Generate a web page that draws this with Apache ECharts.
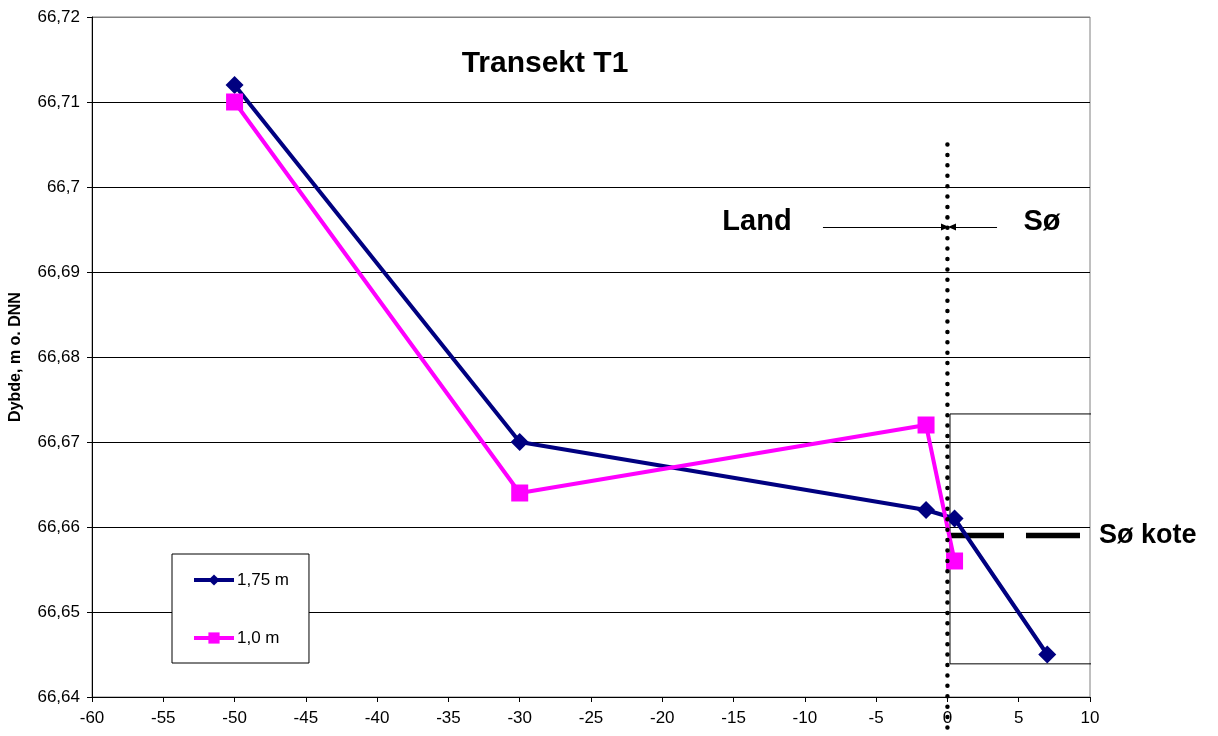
<!DOCTYPE html>
<html>
<head>
<meta charset="utf-8">
<title>Transekt T1</title>
<script src="https://cdn.jsdelivr.net/npm/echarts@6/dist/echarts.min.js"></script>
<style>
  html, body { margin: 0; padding: 0; background: #fff; }
  #chart { width: 1218px; height: 736px; }
</style>
</head>
<body>
<div id="chart"></div>
<script>
// Measured profile, distance from shoreline (m) and level (m o. DNN)
const seriesNames = ['1,75 m', '1,0 m'];
const distance175 = [-50, -30, -1.5, 0.5, 7];
const level175 = [66.712, 66.670, 66.662, 66.661, 66.645];
const distance10 = [-50, -30, -1.5, 0.5];
const level10 = [66.710, 66.664, 66.672, 66.656];

// Axis ranges
const xMin = -60, xMax = 10, xStep = 5;
const yMin = 66.64, yMax = 66.72, yStep = 0.01;

// Annotations: shoreline, lake level, land/lake arrows, lake box
const shoreX = 0;
const shoreLineY = [66.705, 66.6358];
const lakeLevel = 66.659;
const lakeLevelX = [0.18, 9.3];
const arrowY = 66.6953;
const landArrowX = [-8.73, -0.17];
const lakeArrowX = [3.48, 0.32];
const lakeBoxX = [0.18, 10.21];
const lakeBoxY = [66.6439, 66.6733];

const FONT = '"Liberation Sans", Arial, sans-serif';

function pairs(xs, ys) { return xs.map((x, i) => [x, ys[i]]); }
function commaNum(v) { return String(+v.toFixed(4)).replace('.', ','); }

const yLineCount = Math.round((yMax - yMin) / yStep) + 1;
const gridColors = Array.from({ length: yLineCount }, (_, i) => i === yLineCount - 1 ? '#808080' : '#000');

const chart = echarts.init(document.getElementById('chart'), null, { renderer: 'canvas' });

chart.setOption({
  animation: false,
  backgroundColor: '#fff',
  grid: {
    left: 92, right: 128, top: 17, bottom: 39,
    show: true, borderColor: '#808080', borderWidth: 1, backgroundColor: 'transparent',
    containLabel: false, outerBoundsMode: 'none'
  },
  xAxis: {
    type: 'value', min: xMin, max: xMax, interval: xStep,
    axisLine: { show: true, onZero: false, lineStyle: { color: '#000', width: 1 } },
    axisTick: { show: true, inside: false, length: 5, lineStyle: { color: '#000' } },
    axisLabel: { color: '#000', fontFamily: FONT, fontSize: 17, margin: 13, formatter: v => commaNum(v) },
    splitLine: { show: false }
  },
  yAxis: {
    type: 'value', min: yMin, max: yMax, interval: yStep,
    name: 'Dybde, m o. DNN', nameLocation: 'middle', nameRotate: 90, nameGap: 68,
    nameTextStyle: { color: '#000', fontFamily: FONT, fontSize: 16, fontWeight: 'bold' },
    axisLine: { show: true, onZero: false, lineStyle: { color: '#000', width: 1 } },
    axisTick: { show: true, inside: false, length: 5, lineStyle: { color: '#000' } },
    axisLabel: { color: '#000', fontFamily: FONT, fontSize: 17, margin: 12, formatter: v => commaNum(v) },
    splitLine: { show: true, lineStyle: { color: gridColors, width: 1 } }
  },
  legend: {
    data: seriesNames,
    orient: 'vertical',
    left: 172, top: 554,
    padding: [17, 20, 16, 20],
    itemGap: 40,
    itemWidth: 40, itemHeight: 14,
    backgroundColor: '#fff',
    borderColor: '#000', borderWidth: 1, borderRadius: 0,
    lineStyle: { width: 4 },
    textStyle: { color: '#000', fontFamily: FONT, fontSize: 17, lineHeight: 18, padding: [0, 0, 0, -2] },
    selectedMode: false
  },
  graphic: [
    { type: 'text', x: 545, y: 64, style: { text: 'Transekt T1', font: 'bold 30px ' + FONT, fill: '#000', textAlign: 'center', textVerticalAlign: 'middle' } },
    { type: 'text', x: 757, y: 222, style: { text: 'Land', font: 'bold 29px ' + FONT, fill: '#000', textAlign: 'center', textVerticalAlign: 'middle' } },
    { type: 'text', x: 1042, y: 222, style: { text: 'Sø', font: 'bold 29px ' + FONT, fill: '#000', textAlign: 'center', textVerticalAlign: 'middle' } },
    { type: 'text', x: 1099, y: 536, style: { text: 'Sø kote', font: 'bold 27px ' + FONT, fill: '#000', textAlign: 'left', textVerticalAlign: 'middle' } }
  ],
  series: [
    {
      name: 'lakeBox', type: 'line', clip: false, silent: true, symbol: 'none', z: 1,
      lineStyle: { color: '#000', width: 1 },
      data: [[lakeBoxX[0], lakeBoxY[0]], [lakeBoxX[1], lakeBoxY[0]], [lakeBoxX[1], lakeBoxY[1]], [lakeBoxX[0], lakeBoxY[1]], [lakeBoxX[0], lakeBoxY[0]]]
    },
    {
      name: 'lakeLevel', type: 'line', clip: false, silent: true, symbol: 'none', z: 2,
      lineStyle: { color: '#000', width: 5.5, type: [54, 22], cap: 'butt' },
      data: [[lakeLevelX[0], lakeLevel], [lakeLevelX[1], lakeLevel]]
    },
    {
      name: seriesNames[0], type: 'line', clip: false, z: 3,
      color: '#000080',
      symbol: 'diamond', symbolSize: 18,
      lineStyle: { color: '#000080', width: 4 },
      itemStyle: { color: '#000080' },
      data: pairs(distance175, level175)
    },
    {
      name: seriesNames[1], type: 'line', clip: false, z: 4,
      color: '#FF00FF',
      symbol: 'rect', symbolSize: 17,
      lineStyle: { color: '#FF00FF', width: 4 },
      itemStyle: { color: '#FF00FF' },
      data: pairs(distance10, level10)
    },
    {
      name: 'shoreline', type: 'line', clip: false, silent: true, symbol: 'none', z: 5,
      lineStyle: { color: '#000', width: 4.5, type: [0.01, 10.4], cap: 'round' },
      data: [[shoreX, shoreLineY[0]], [shoreX, shoreLineY[1]]],
      markLine: {
        silent: true, symbol: ['none', 'triangle'], symbolSize: [7, 8], animation: false,
        label: { show: false },
        lineStyle: { color: '#000', width: 1, type: 'solid' },
        data: [
          [{ coord: [landArrowX[0], arrowY] }, { coord: [landArrowX[1], arrowY] }],
          [{ coord: [lakeArrowX[0], arrowY] }, { coord: [lakeArrowX[1], arrowY] }]
        ]
      }
    }
  ]
});
</script>
</body>
</html>
